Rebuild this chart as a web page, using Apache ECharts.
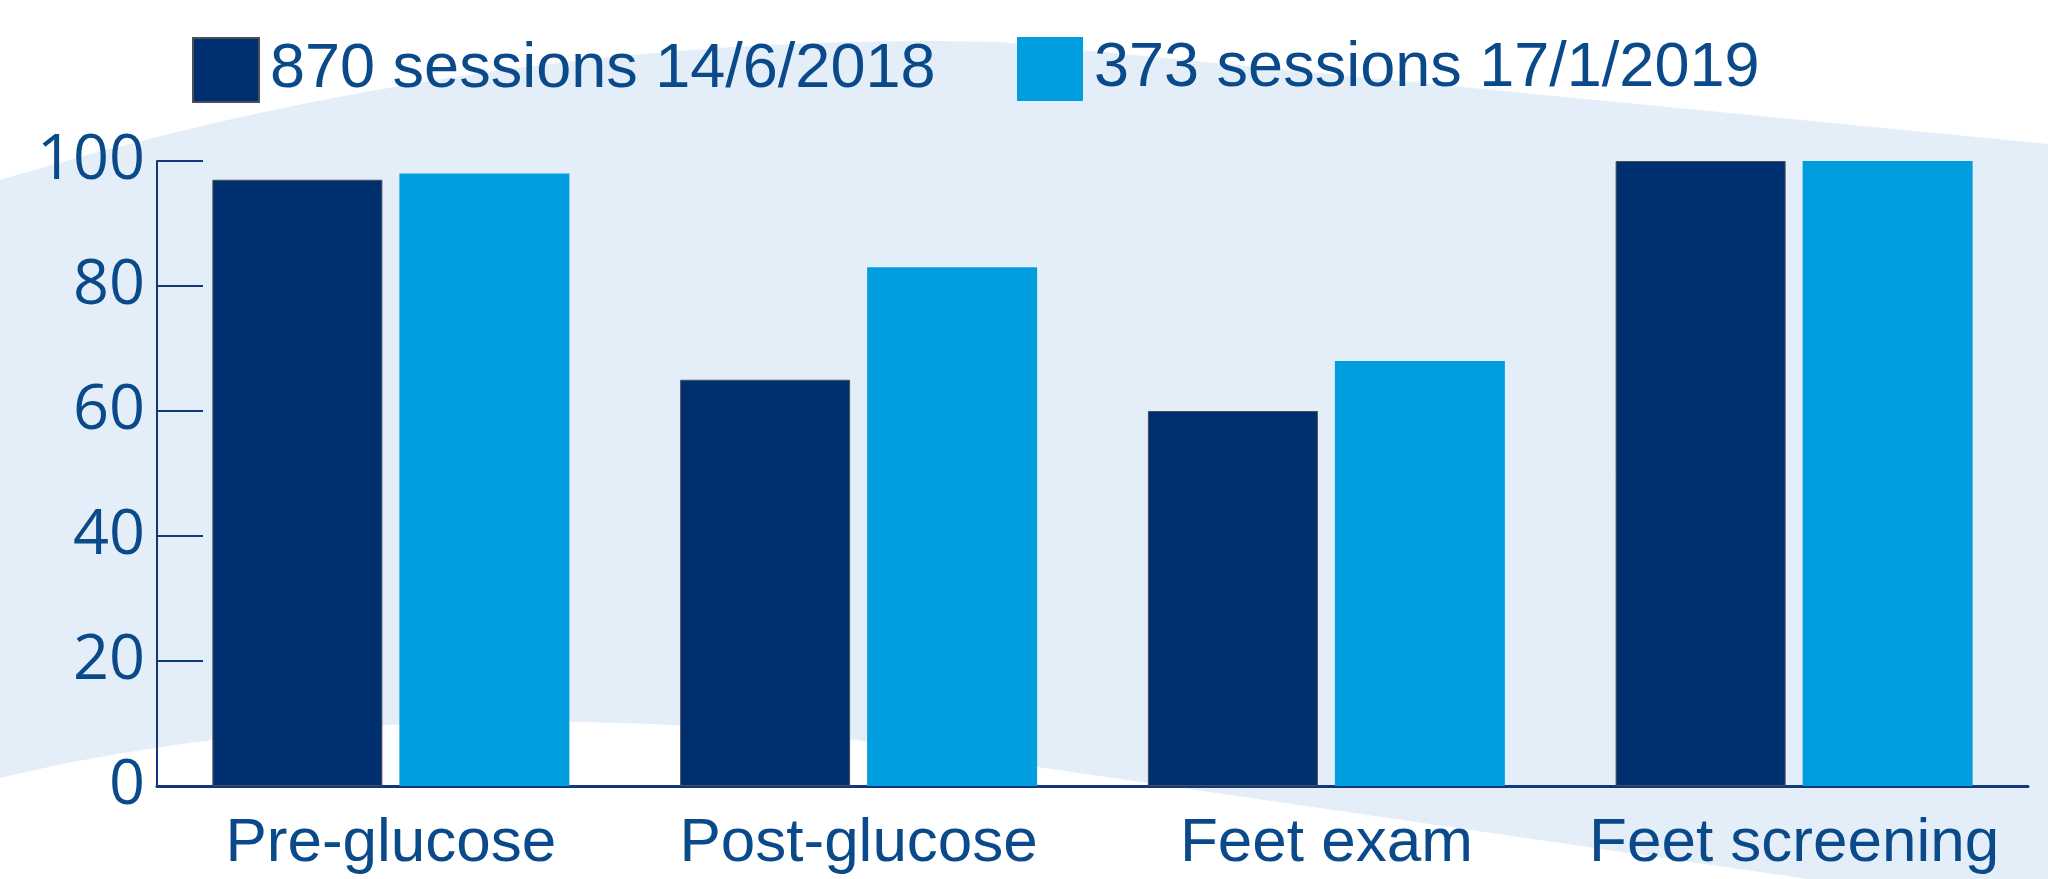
<!DOCTYPE html>
<html lang="en">
<head>
	<meta charset="UTF-8">
	<title>sessions chart</title>
	<style>
		html, body { margin: 0; padding: 0; background: #fff; }
		#chart { width: 2048px; height: 879px; }
	</style>
</head>
<body>
	<div id="chart"></div>
	<script src="https://cdn.jsdelivr.net/npm/echarts@6/dist/echarts.min.js"></script>
	<script>
		// data
		var categories = ['Pre-glucose', 'Post-glucose', 'Feet exam', 'Feet screening'];
		var seriesNames = ['870 sessions 14/6/2018', '373 sessions 17/1/2019'];
		var values2018 = [97, 65, 60, 100];
		var values2019 = [98, 83, 68, 100];

		var navy = '#002f6f';
		var cyan = '#009ede';
		var textColor = '#0b4a8a';
		var axisColor = '#13377a';
		var labelFont = "'Liberation Sans', Arial, sans-serif";

		// pale curved band behind the plot (decoration only)
		function bandOutline() {
			var pts = [];
			var t, u, i;
			// upper edge: quadratic (0,180) -> (1000,42), control (500,30)
			for (i = 0; i <= 30; i++) {
				t = i / 30; u = 1 - t;
				pts.push([2 * u * t * 500 + t * t * 1000, u * u * 180 + 2 * u * t * 30 + t * t * 42]);
			}
			pts.push([2048, 144], [2048, 879], [1808, 879], [1024, 765]);
			// lower edge: cubic (1024,765) -> (0,778)
			for (i = 1; i <= 30; i++) {
				t = i / 30; u = 1 - t;
				pts.push([
					u * u * u * 1024 + 3 * u * u * t * 700 + 3 * u * t * t * 300,
					u * u * u * 765 + 3 * u * u * t * 705 + 3 * u * t * t * 705 + t * t * t * 778
				]);
			}
			return pts;
		}

		var chart = echarts.init(document.getElementById('chart'));

		var legendText = {
			color: textColor,
			fontFamily: labelFont,
			fontSize: 63,
			padding: [6, 0, 0, 6]
		};

		var option = {
			backgroundColor: '#ffffff',
			animation: false,
			graphic: [
				{
					type: 'polygon',
					z: -10,
					silent: true,
					shape: { points: bandOutline() },
					style: { fill: '#e3eef8' }
				}
			],
			legend: [
				{
					data: [seriesNames[0]],
					left: 187,
					top: 32,
					icon: 'rect',
					itemWidth: 66,
					itemHeight: 64,
					textStyle: legendText
				},
				{
					data: [seriesNames[1]],
					left: 1012,
					top: 32,
					icon: 'rect',
					itemWidth: 66,
					itemHeight: 64,
					textStyle: legendText
				}
			],
			grid: {
				left: 157,
				right: 20,
				top: 161,
				bottom: 93
			},
			xAxis: {
				type: 'category',
				data: categories,
				axisLine: { lineStyle: { color: axisColor, width: 3 } },
				axisTick: { inside: true, length: 15, lineStyle: { color: axisColor, width: 2 } },
				axisLabel: {
					interval: 0,
					color: textColor,
					fontFamily: labelFont,
					fontSize: 62,
					margin: 27
				}
			},
			yAxis: {
				type: 'value',
				min: 0,
				max: 100,
				interval: 20,
				splitLine: { show: false },
				axisLine: { show: true, lineStyle: { color: axisColor, width: 2 } },
				axisTick: { show: true, inside: true, length: 46, lineStyle: { color: axisColor, width: 2 } },
				axisLabel: {
					color: textColor,
					fontFamily: "'Open Sans', sans-serif",
					fontSize: 63,
					margin: 12
				}
			},
			series: [
				{
					name: seriesNames[0],
					type: 'bar',
					data: values2018,
					barWidth: 170,
					barGap: '10%',
					itemStyle: { color: navy, borderColor: '#4a4f58', borderWidth: 1 }
				},
				{
					name: seriesNames[1],
					type: 'bar',
					data: values2019,
					barWidth: 170,
					barGap: '10%',
					itemStyle: { color: cyan }
				}
			]
		};

		chart.setOption(option);
	</script>
</body>
</html>
